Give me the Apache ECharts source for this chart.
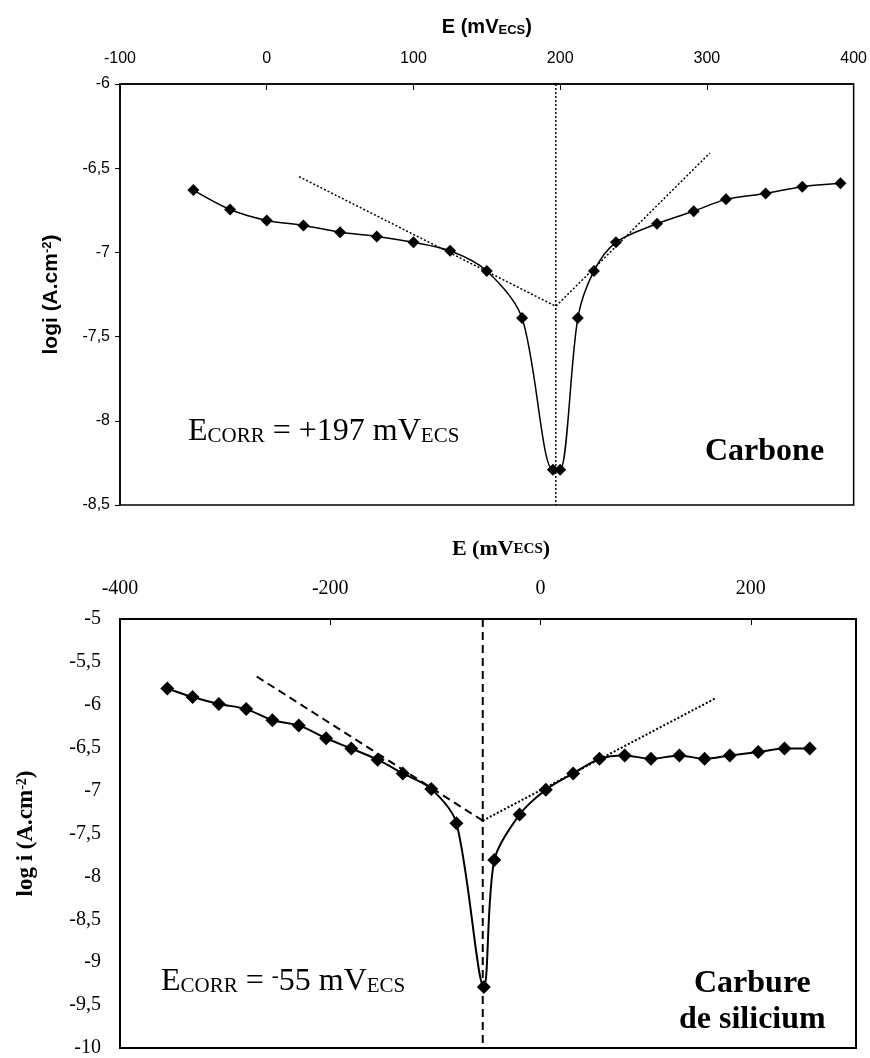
<!DOCTYPE html>
<html>
<head>
  <meta charset="utf-8">
  <title>Courbes de polarisation</title>
  <script src="https://cdn.jsdelivr.net/npm/echarts@6/dist/echarts.min.js"></script>
</head>
<body style="margin:0;background:#fff;">
<div id="main" style="width:870px;height:1058px;"></div>
<script type="text/javascript">
  // Carbone : potentiel (mV/ECS) et log i
  var carbE = [-50, -25, 0, 25, 50, 75, 100, 125, 150, 174, 195, 200, 212, 223, 238, 266, 291, 313, 340, 365, 391];
  var carbLogI = [-6.63, -6.745, -6.81, -6.84, -6.88, -6.905, -6.94, -6.99, -7.11, -7.39, -8.29, -8.29, -7.39, -7.11, -6.94, -6.83, -6.755, -6.685, -6.65, -6.61, -6.59];
  var carbTafelE = [22, 197, 302];
  var carbTafelI = [-6.55, -7.32, -6.41];
  var carbEcorr = 197;

  // Carbure de silicium
  var sicE = [-355, -331, -306, -280, -255, -230, -204, -180, -155, -131, -104, -80, -54, -44, -20, 5, 31, 56, 80, 105, 132, 156, 180, 207, 232, 256];
  var sicLogI = [-5.81, -5.91, -5.99, -6.05, -6.18, -6.24, -6.39, -6.51, -6.64, -6.80, -6.98, -7.38, -9.29, -7.81, -7.28, -6.99, -6.80, -6.63, -6.59, -6.63, -6.59, -6.63, -6.59, -6.55, -6.51, -6.51];
  var sicCathE = [-270, -55];
  var sicCathI = [-5.67, -7.35];
  var sicAnodE = [-55, 167];
  var sicAnodI = [-7.35, -5.92];
  var sicEcorr = -55;

  function pairs(xs, ys) {
    return xs.map(function (x, i) { return [x, ys[i]]; });
  }
  function comma(v) { return String(v).replace('.', ','); }

  var sans = 'Liberation Sans';
  var serif = 'Liberation Serif';

  var myChart = echarts.init(document.getElementById('main'));

  var option = {
    backgroundColor: '#fff',
    animation: false,
    grid: [
      { left: 120, top: 84, width: 736, height: 421, show: true, borderColor: '#000', borderWidth: 1.5 },
      { left: 120, top: 619, width: 736, height: 436, show: true, borderColor: '#000', borderWidth: 2 }
    ],
    xAxis: [
      {
        gridIndex: 0, type: 'value', position: 'top', min: -100, max: 400, interval: 100,
        name: 'E (mV{sub|ECS})', nameLocation: 'middle', nameGap: 47,
        nameTextStyle: {
          fontFamily: sans, fontWeight: 'bold', fontSize: 20, color: '#000',
          rich: { sub: { fontFamily: sans, fontWeight: 'bold', fontSize: 13, color: '#000', verticalAlign: 'bottom', padding: [6, 0, 0, 0] } }
        },
        axisLine: { show: true, onZero: false, lineStyle: { color: '#000', width: 1.5 } },
        axisTick: { show: true, inside: true, length: 6, lineStyle: { color: '#000' } },
        axisLabel: { fontFamily: sans, fontSize: 16, color: '#000', margin: 17 },
        splitLine: { show: false }
      },
      {
        gridIndex: 1, type: 'value', position: 'top', min: -400, max: 300, interval: 200,
        name: 'E (mV{sub|ECS})', nameLocation: 'middle', nameGap: 59,
        nameTextStyle: {
          fontFamily: serif, fontWeight: 'bold', fontSize: 22, color: '#000', padding: [0, 0, 0, 26],
          rich: { sub: { fontFamily: serif, fontWeight: 'bold', fontSize: 15, color: '#000' } }
        },
        axisLine: { show: true, onZero: false, lineStyle: { color: '#000', width: 2 } },
        axisTick: { show: true, inside: true, length: 6, lineStyle: { color: '#000' } },
        axisLabel: {
          fontFamily: serif, fontSize: 20, color: '#000', margin: 20,
          formatter: function (v) { return v === 300 ? '' : String(v); }
        },
        splitLine: { show: false }
      }
    ],
    yAxis: [
      {
        gridIndex: 0, type: 'value', min: -8.5, max: -6, interval: 0.5,
        name: 'logi (A.cm{sup|-2})', nameLocation: 'middle', nameGap: 58, nameRotate: 90,
        nameTextStyle: {
          fontFamily: sans, fontWeight: 'bold', fontSize: 21, color: '#000',
          rich: { sup: { fontFamily: sans, fontWeight: 'bold', fontSize: 13, color: '#000', verticalAlign: 'top' } }
        },
        axisLine: { show: true, onZero: false, lineStyle: { color: '#000', width: 1.5 } },
        axisTick: { show: true, inside: false, length: 5, lineStyle: { color: '#000' } },
        axisLabel: { fontFamily: sans, fontSize: 16, color: '#000', margin: 10, formatter: comma },
        splitLine: { show: false }
      },
      {
        gridIndex: 1, type: 'value', min: -10, max: -5, interval: 0.5,
        name: 'log i (A.cm{sup|-2})', nameLocation: 'middle', nameGap: 82, nameRotate: 90,
        nameTextStyle: {
          fontFamily: serif, fontWeight: 'bold', fontSize: 23, color: '#000',
          rich: { sup: { fontFamily: serif, fontWeight: 'bold', fontSize: 14, color: '#000', verticalAlign: 'top' } }
        },
        axisLine: { show: true, onZero: false, lineStyle: { color: '#000', width: 2 } },
        axisTick: { show: false },
        axisLabel: { fontFamily: serif, fontSize: 20, color: '#000', margin: 19, formatter: comma },
        splitLine: { show: false }
      }
    ],
    series: [
      {
        name: 'Carbone', type: 'line', xAxisIndex: 0, yAxisIndex: 0,
        data: pairs(carbE, carbLogI), smooth: 0.3,
        symbol: 'diamond', symbolSize: 12,
        itemStyle: { color: '#000' }, lineStyle: { color: '#000', width: 1.5 }, z: 5
      },
      {
        name: 'Tafel carbone', type: 'line', xAxisIndex: 0, yAxisIndex: 0,
        data: pairs(carbTafelE, carbTafelI), symbol: 'none',
        lineStyle: { color: '#000', width: 1.5, type: [2, 2] }
      },
      {
        name: 'Ecorr carbone', type: 'line', xAxisIndex: 0, yAxisIndex: 0,
        data: [[carbEcorr, -6], [carbEcorr, -8.5]], symbol: 'none',
        lineStyle: { color: '#000', width: 1.5, type: [2, 2] }
      },
      {
        name: 'SiC', type: 'line', xAxisIndex: 1, yAxisIndex: 1,
        data: pairs(sicE, sicLogI), smooth: 0.3,
        symbol: 'diamond', symbolSize: 14,
        itemStyle: { color: '#000' }, lineStyle: { color: '#000', width: 2 }, z: 5
      },
      {
        name: 'Tafel cathodique', type: 'line', xAxisIndex: 1, yAxisIndex: 1,
        data: pairs(sicCathE, sicCathI), symbol: 'none',
        lineStyle: { color: '#000', width: 2, type: [8, 5] }
      },
      {
        name: 'Tafel anodique', type: 'line', xAxisIndex: 1, yAxisIndex: 1,
        data: pairs(sicAnodE, sicAnodI), symbol: 'none',
        lineStyle: { color: '#000', width: 2, type: [2, 2] }
      },
      {
        name: 'Ecorr SiC', type: 'line', xAxisIndex: 1, yAxisIndex: 1,
        data: [[sicEcorr, -5], [sicEcorr, -10]], symbol: 'none',
        lineStyle: { color: '#000', width: 2, type: [8, 5] }
      }
    ],
    graphic: [
      {
        type: 'text', left: 188, top: 416,
        style: {
          text: 'E{sub|CORR} = +197 mV{sub|ECS}',
          fontFamily: serif, fontSize: 32, fill: '#000',
          rich: { sub: { fontFamily: serif, fontSize: 21, fill: '#000', padding: [8, 0, 0, 0] } }
        }
      },
      {
        type: 'text', left: 705, top: 436,
        style: { text: 'Carbone', fontFamily: serif, fontWeight: 'bold', fontSize: 32, fill: '#000' }
      },
      {
        type: 'text', left: 161, top: 966,
        style: {
          text: 'E{sub|CORR} = {sup|-}55 mV{sub|ECS}',
          fontFamily: serif, fontSize: 32, fill: '#000',
          rich: {
            sub: { fontFamily: serif, fontSize: 21, fill: '#000', padding: [8, 0, 0, 0] },
            sup: { fontFamily: serif, fontSize: 21, fill: '#000', verticalAlign: 'top' }
          }
        }
      },
      {
        type: 'text', left: 694, top: 968,
        style: { text: 'Carbure', fontFamily: serif, fontWeight: 'bold', fontSize: 32, fill: '#000' }
      },
      {
        type: 'text', left: 679, top: 1004,
        style: { text: 'de silicium', fontFamily: serif, fontWeight: 'bold', fontSize: 32, fill: '#000' }
      }
    ]
  };

  myChart.setOption(option);
</script>
</body>
</html>
